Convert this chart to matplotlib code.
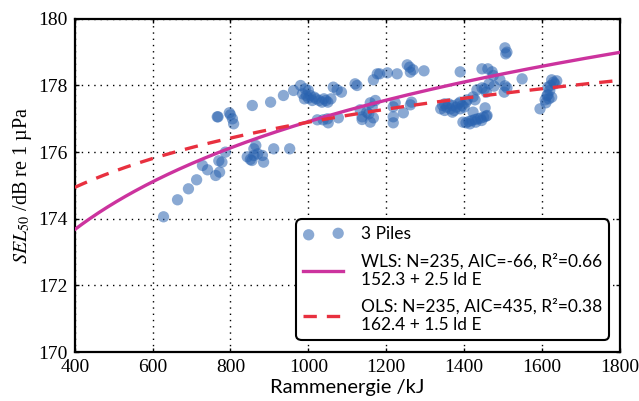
import numpy as np
import matplotlib
matplotlib.use("Agg")
import matplotlib.pyplot as plt

# ---- data ----
energy = [628, 664, 692, 713, 728, 741, 762, 772, 770, 778, 787,
          766, 768, 797, 805, 808, 800,
          856, 903, 936, 962, 980,
          843, 851, 860, 865, 870, 882, 885, 855, 860,
          911, 952,
          985, 990, 995, 1000, 1005, 1010, 1015, 1020, 1028, 1035, 1040, 1045, 1050, 1000, 992,
          1064, 1074, 1058,
          1023, 1038, 1051, 1077, 1049,
          1120, 1125, 1167, 1177, 1183, 1203, 1228, 1254, 1260, 1269, 1262, 1297,
          1133, 1138, 1138, 1159, 1164, 1167, 1159, 1150, 1172,
          1218, 1223, 1218, 1218, 1244, 1262, 1265,
          1340, 1345, 1350, 1355, 1360, 1365, 1370, 1375, 1380, 1385, 1390, 1395, 1400, 1405, 1350, 1370, 1390,
          1408, 1423, 1428, 1433, 1446, 1452, 1457, 1464, 1477,
          1390, 1446, 1461, 1472, 1475, 1492,
          1505, 1510, 1507, 1505, 1510, 1503, 1549,
          1397, 1405, 1412, 1420, 1428, 1435, 1442, 1450, 1457, 1415, 1430, 1445, 1454, 1459, 1423,
          1595, 1608, 1613, 1615, 1620, 1622, 1625, 1630, 1638, 1618, 1625, 1615, 1633, 1610,
          1085, 1155]
sel = [174.06, 174.57, 174.90, 175.17, 175.60, 175.47, 175.30, 175.40, 175.74, 175.70, 176.00,
       177.06, 177.06, 177.18, 177.00, 176.85, 177.12,
       177.40, 177.50, 177.70, 177.85, 178.00,
       175.86, 175.78, 176.10, 176.20, 175.95, 175.90, 175.70, 175.75, 175.90,
       176.10, 176.10,
       177.75, 177.60, 177.70, 177.62, 177.70, 177.55, 177.65, 177.60, 177.55, 177.50, 177.60, 177.55, 177.50, 177.85, 177.90,
       177.95, 177.87, 177.60,
       176.97, 176.97, 176.88, 177.03, 177.00,
       178.05, 178.00, 178.17, 178.35, 178.35, 178.38, 178.35, 178.62, 178.55, 178.47, 178.40, 178.44,
       177.27, 177.06, 176.98, 177.48, 177.35, 177.03, 176.90, 177.20, 177.55,
       177.36, 177.48, 177.06, 176.88, 177.18, 177.42, 177.50,
       177.30, 177.40, 177.25, 177.35, 177.45, 177.30, 177.40, 177.25, 177.35, 177.45, 177.30, 177.40, 177.35, 177.50, 177.45, 177.20, 177.50,
       177.57, 177.66, 177.57, 177.87, 177.93, 177.90, 177.80, 178.05, 177.98,
       178.41, 178.50, 178.50, 178.41, 178.30, 178.17,
       179.13, 179.00, 178.95, 177.99, 177.93, 177.80, 178.20,
       176.90, 176.88, 176.92, 176.95, 176.98, 177.00, 177.02, 177.05, 177.08, 176.85, 176.90, 176.95, 177.33, 177.10, 177.20,
       177.30, 177.57, 177.70, 177.72, 177.85, 178.00, 178.17, 178.10, 178.14, 177.60, 177.65, 177.95, 178.05, 177.48,
       177.80, 177.15]

# fitted model curves: SEL = a + b * ld(E)
wls_a, wls_b = 152.5, 2.45
ols_a, ols_b = 162.15, 1.48

scatter_label = "3 Piles"
wls_label = "WLS: N=235, AIC=-66, R²=0.66\n152.3 + 2.5 ld E"
ols_label = "OLS: N=235, AIC=435, R²=0.38\n162.4 + 1.5 ld E"
xticks = [400, 600, 800, 1000, 1200, 1400, 1600, 1800]
yticks = [170, 172, 174, 176, 178, 180]

# ---- plotting ----
plt.rcParams['mathtext.fontset'] = 'stix'
serif = 'Liberation Serif'
sans = 'Lato'

fig = plt.figure(figsize=(6.39, 4.01), dpi=100)
ax = fig.add_axes([0.117, 0.122, 0.853, 0.831])

ax.scatter(energy, sel, s=66, color='#2a63b0', alpha=0.55, edgecolors='none',
           label=scatter_label, zorder=3)

e_line = np.linspace(400, 1800, 300)
ax.plot(e_line, wls_a + wls_b * np.log2(e_line), color='#cc339e', lw=2.4,
        label=wls_label, zorder=4)
ax.plot(e_line, ols_a + ols_b * np.log2(e_line), color='#e8303f', lw=2.4,
        ls=(0, (4, 3)), label=ols_label, zorder=4)

ax.set_xlim(400, 1800)
ax.set_ylim(170, 180)
ax.set_xticks(xticks)
ax.set_yticks(yticks)
ax.grid(True, color='black', ls=(0, (1, 3.5)), lw=1.0)
ax.set_axisbelow(True)
ax.tick_params(direction='in', top=True, right=True, length=3, width=1,
               labelsize=14)
ax.tick_params(axis='x', pad=5)
ax.tick_params(axis='y', pad=5)
for lab in ax.get_xticklabels() + ax.get_yticklabels():
    lab.set_family(serif)
for sp in ax.spines.values():
    sp.set_linewidth(1.6)

ax.set_xlabel("Rammenergie /kJ", family=sans, fontsize=14.5, labelpad=2)
ax.set_ylabel(r"$\mathit{SEL}_{50}$ /dB re 1 µPa", family=serif, fontsize=14.5,
              labelpad=3)

leg = ax.legend(loc='lower right', bbox_to_anchor=(0.98, 0.036), borderaxespad=0,
                scatterpoints=2, handlelength=2.3, handletextpad=1.0,
                prop={'family': sans, 'size': 12.5}, frameon=True, fancybox=True,
                framealpha=1, labelspacing=0.6, borderpad=0.4)
leg.get_frame().set_edgecolor('black')
leg.get_frame().set_linewidth(1.5)
leg.get_frame().set_boxstyle('round', pad=0, rounding_size=0.3)

fig.savefig("out.png", dpi=100)
